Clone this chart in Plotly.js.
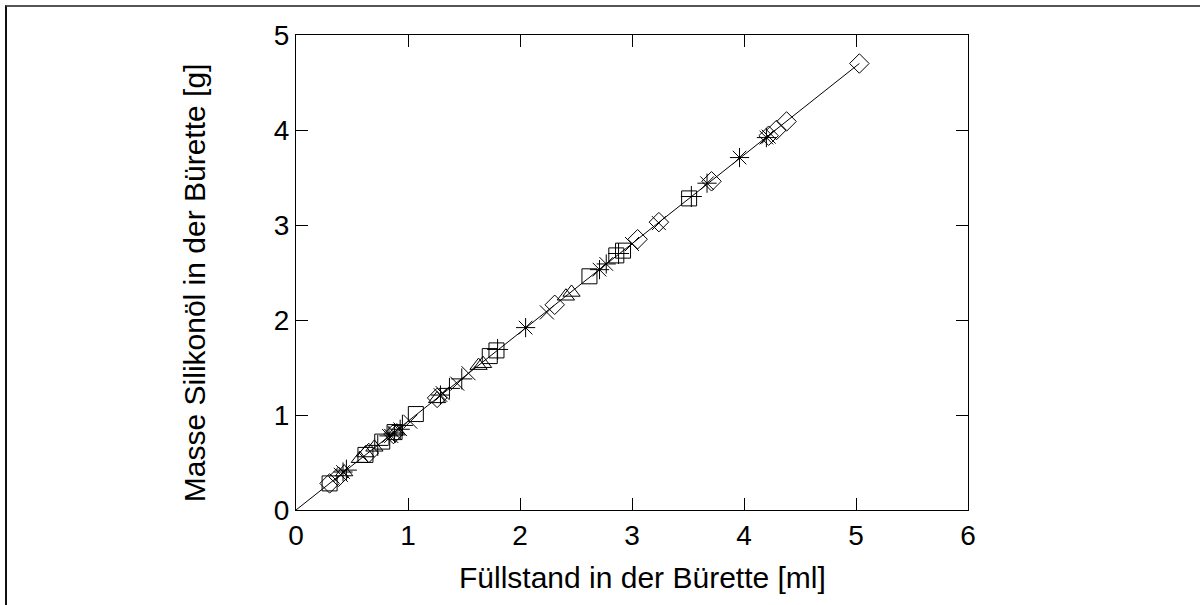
<!DOCTYPE html>
<html>
<head>
<meta charset="utf-8">
<script src="https://cdn.plot.ly/plotly-3.0.1.min.js"></script>
<style>
  html, body { margin: 0; padding: 0; background: #fff; }
  #wrap { position: relative; width: 1200px; height: 605px; }
  #chart { width: 1200px; height: 605px; }
  #frame {
    position: absolute; left: 5px; top: 5px; width: 1195px; height: 600px;
    border-top: 2px solid #555; border-left: 2px solid #111;
    pointer-events: none; box-sizing: border-box;
  }
</style>
</head>
<body>
<div id="wrap">
  <div id="chart"></div>
  <div id="frame"></div>
</div>
<script>
// Füllstand [ml] und Masse [g] je Messreihe
const diamondX  = [0.30, 0.38, 0.65, 0.87, 1.26, 2.31, 3.05, 3.24, 3.71, 4.22, 4.29, 4.38, 5.03];
const diamondY  = [0.28, 0.35, 0.60, 0.80, 1.18, 2.16, 2.85, 3.03, 3.46, 3.94, 4.00, 4.09, 4.70];

const plusX     = [0.45, 0.73, 0.95, 1.37, 1.48, 1.80, 2.88, 3.53];
const plusY     = [0.42, 0.68, 0.89, 1.28, 1.38, 1.69, 2.70, 3.30];

const squareX   = [0.30, 0.62, 0.77, 0.88, 1.07, 1.73, 1.79, 2.62, 2.86, 2.92, 3.51];
const squareY   = [0.28, 0.58, 0.72, 0.82, 1.01, 1.62, 1.68, 2.46, 2.68, 2.73, 3.28];

const crossX    = [0.40, 0.85, 1.02, 1.31, 1.44, 1.54, 2.24, 3.00, 3.24, 4.22];
const crossY    = [0.37, 0.78, 0.93, 1.23, 1.33, 1.44, 2.08, 2.80, 3.02, 3.93];

const triangleX = [0.43, 0.57, 0.62, 0.70, 0.90, 1.26, 1.63, 1.67, 2.41, 2.46];
const triangleY = [0.40, 0.54, 0.60, 0.66, 0.83, 1.17, 1.52, 1.54, 2.25, 2.29];

const starX     = [0.42, 0.83, 0.88, 0.93, 1.29, 2.05, 2.71, 2.77, 3.67, 3.96, 4.20];
const starY     = [0.40, 0.78, 0.81, 0.85, 1.21, 1.92, 2.53, 2.59, 3.44, 3.71, 3.92];

// Ausgleichsgerade durch den Ursprung
const fitX = [0, 5.03];
const fitY = [0, 4.70];

const xTicks = [0, 1, 2, 3, 4, 5, 6];
const yTicks = [0, 1, 2, 3, 4, 5];

const xTitle = 'Füllstand in der Bürette [ml]';
const yTitle = 'Masse Silikonöl in der Bürette [g]';

function pts(x, y, symbol, size) {
  return {
    type: 'scatter', mode: 'markers', x: x, y: y,
    marker: { symbol: symbol, size: size, color: '#000', line: { color: '#000', width: 1 } },
    hoverinfo: 'x+y', showlegend: false, cliponaxis: false
  };
}

const traces = [
  { type: 'scatter', mode: 'lines', x: fitX, y: fitY,
    line: { color: '#000', width: 1 }, showlegend: false, hoverinfo: 'skip' },
  pts(diamondX, diamondY, 'diamond-open', 15),
  pts(plusX, plusY, 'cross-thin-open', 15),
  pts(squareX, squareY, 'square-open', 15),
  pts(crossX, crossY, 'x-thin-open', 14),
  pts(triangleX, triangleY, 'triangle-up-open', 15),
  pts(starX, starY, 'asterisk-open', 16)
];

const family = 'Liberation Sans, Arial, Helvetica, sans-serif';
const tickFont = { family: family, size: 28, color: '#000' };
const titleFont = { family: family, size: 30, color: '#000' };

const axisBase = {
  showline: true, linecolor: '#000', linewidth: 1, mirror: 'ticks',
  ticks: 'inside', ticklen: 12, tickwidth: 1, tickcolor: '#000',
  showgrid: false, zeroline: false, tickfont: tickFont, fixedrange: true
};

const layout = {
  width: 1200, height: 605,
  margin: { l: 296, r: 232, t: 35, b: 95, pad: 0 },
  paper_bgcolor: '#fff', plot_bgcolor: '#fff',
  font: tickFont,
  xaxis: Object.assign({}, axisBase, {
    range: [0, 6], tickmode: 'array', tickvals: xTicks, ticktext: xTicks.map(String)
  }),
  yaxis: Object.assign({}, axisBase, {
    range: [0, 5], tickmode: 'array', tickvals: yTicks, ticktext: yTicks.map(String)
  }),
  annotations: [
    { text: xTitle, xref: 'paper', yref: 'paper', x: 0.515, y: -0.143,
      xanchor: 'center', yanchor: 'middle', showarrow: false, font: titleFont },
    { text: yTitle, xref: 'paper', yref: 'paper', x: -0.150, y: 0.478,
      xanchor: 'center', yanchor: 'middle', showarrow: false, textangle: -90, font: titleFont }
  ],
  showlegend: false
};

Plotly.newPlot('chart', traces, layout, { staticPlot: true, displayModeBar: false });
</script>
</body>
</html>
